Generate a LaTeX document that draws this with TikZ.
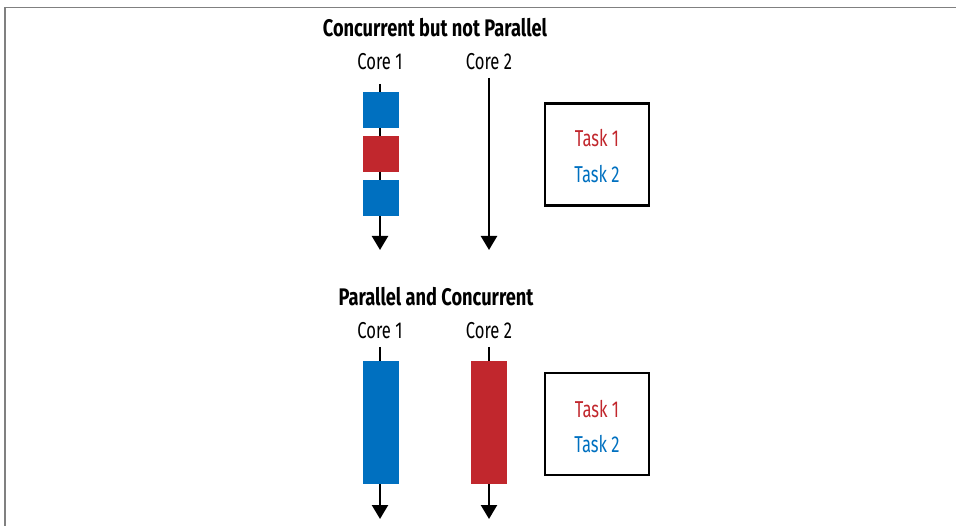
\documentclass[tikz,border=0pt]{standalone}
\usepackage{fontspec}
\setmainfont[FakeStretch=0.72]{Fira Sans}
\newfontfamily\headfont[FakeStretch=0.76]{Fira Sans}
\usetikzlibrary{positioning,arrows.meta}
\definecolor{taskred}{HTML}{C1272D}
\definecolor{taskblue}{HTML}{0070C0}

\begin{document}
\begin{tikzpicture}[x=1pt,y=-1pt,
    slice/.style={inner sep=0pt,minimum width=36pt},
    flow/.style={line width=2.4pt,-{Triangle[width=16pt,length=14pt]}},
    legend/.style={draw,line width=2.6pt,minimum width=104pt,minimum height=102pt},
    corelbl/.style={font=\fontsize{23}{26}\selectfont},
    headlbl/.style={font=\headfont\fontsize{24}{27}\selectfont\bfseries}]
			\useasboundingbox (0,0) rectangle (956,526);
			\draw[gray,line width=1.6pt] (5,526) -- (5,7.5) -- (956,7.5);
			% concurrent but not parallel
			\node[headlbl] (headA) at (435,28) {Concurrent but not Parallel};
			\node[corelbl] (coreAa) at (380,62) {Core 1};
			\node[corelbl] (coreAb) at (489,62) {Core 2};
			\coordinate (topAa) at (380,84);
			\coordinate (endAa) at (380,250);
			\coordinate (topAb) at (489,78);
			\coordinate (endAb) at (489,250);
			\draw[flow] (topAa) -- (endAa);
			\draw[flow] (topAb) -- (endAb);
			\node[slice,minimum height=36pt,fill=taskblue] (runA) at (380.5,110.5) {};
			\node[slice,minimum height=36pt,fill=taskred] (runB) at (380.5,154) {};
			\node[slice,minimum height=36pt,fill=taskblue] (runC) at (380.5,198) {};
			\node[legend] (keyA) at (597,154.5) {};
			\node[corelbl,text=taskred] at ([yshift=16pt]keyA.center) {Task 1};
			\node[corelbl,text=taskblue] at ([yshift=-20pt]keyA.center) {Task 2};
			% parallel and concurrent
			\node[headlbl] (headB) at (436,297) {Parallel and Concurrent};
			\node[corelbl] (coreBa) at (380,331) {Core 1};
			\node[corelbl] (coreBb) at (489,331) {Core 2};
			\coordinate (topBa) at (380,347);
			\coordinate (endBa) at (380,519);
			\coordinate (topBb) at (489,347);
			\coordinate (endBb) at (489,519);
			\draw[flow] (topBa) -- (endBa);
			\draw[flow] (topBb) -- (endBb);
			\node[slice,minimum height=123pt,fill=taskblue] (runD) at (380.5,422.5) {};
			\node[slice,minimum height=123pt,fill=taskred] (runE) at (489,422.5) {};
			\node[legend] (keyB) at (597,424) {};
			\node[corelbl,text=taskred] at ([yshift=15pt]keyB.center) {Task 1};
			\node[corelbl,text=taskblue] at ([yshift=-20pt]keyB.center) {Task 2};
		\end{tikzpicture}
\end{document}
